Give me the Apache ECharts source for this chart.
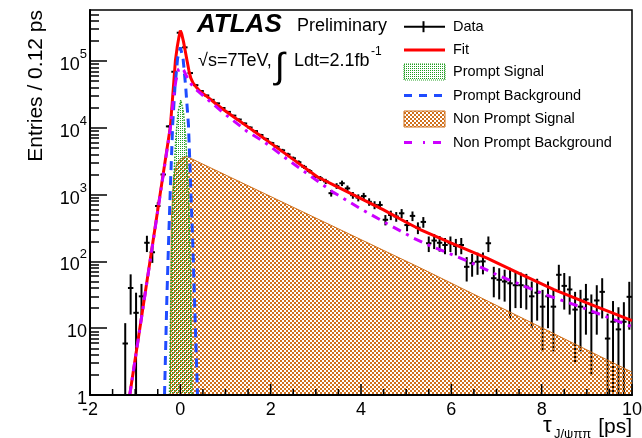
<!DOCTYPE html>
<html><head><meta charset="utf-8">
<script src="https://cdn.jsdelivr.net/npm/echarts@6/dist/echarts.min.js"></script>
<style>html,body{margin:0;padding:0;background:#fff}#c{width:642px;height:438px}</style>
</head><body><div id="c"></div>
<script>
// ---- data ----
const dataX = [-1.22,-1.10,-0.98,-0.86,-0.74,-0.62,-0.50,-0.38,-0.26,-0.14,-0.02,0.10,0.22,0.34,0.46,0.58,0.70,0.82,0.94,1.06,1.18,1.30,1.42,1.54,1.66,1.78,1.90,2.02,2.14,2.26,2.38,2.50,2.62,2.74,2.86,2.98,3.10,3.22,3.34,3.46,3.58,3.70,3.82,3.94,4.06,4.18,4.30,4.42,4.54,4.66,4.78,4.90,5.02,5.14,5.26,5.38,5.50,5.62,5.74,5.86,5.98,6.10,6.22,6.34,6.46,6.58,6.70,6.82,6.94,7.06,7.18,7.30,7.42,7.54,7.66,7.78,7.90,8.02,8.14,8.26,8.38,8.50,8.62,8.74,8.86,8.98,9.10,9.22,9.34,9.46,9.58,9.70,9.82,9.94];
const dataY = [5.9,40,17,30,190,137,675,2000,10500,69000,265000,160000,66000,43500,35500,30500,26200,23200,19800,17300,15200,13300,11600,10100,8900,7800,6800,5900,5200,4600,4000,3500,3050,2600,2250,1850,1750,1580,1050,1350,1480,1240,980,900,950,780,700,700,420,495,470,525,350,480,320,390,187,205,190,176,187,170,176,83,94,99,100,187,56,53,50,47,44,44,42,30,34,21,30,21,63,43,38,19,21,27,17,26,35,7,12.5,9.6,12.5,29.5];
const dataErr = [6,24,17,16,52,42,93,160,370,950,1850,1440,925,750,680,630,580,550,510,470,440,415,390,360,340,318,297,276,260,244,228,213,199,184,171,155,150,143,117,132,138,127,113,108,111,100,95,95,74,80,78,82,67,79,64,71,49,52,50,48,49,47,48,33,35,36,36,49,27,26,25,33,24,24,23,20,21,16.5,20,16.5,26,24,22,16,16.5,19,15,18,21,9.5,13,11,12,20];

const fitCurve = [[-1.12,1],[-0.22,10500],[-0.17,29000],[-0.11,100000],[-0.07,160000],[-0.03,230000],[0.0,285000],[0.03,255000],[0.07,195000],[0.11,140000],[0.15,100000],[0.19,72000],[0.23,56000],[0.28,47000],[0.36,40000],[0.44,35000],[0.6,29000],[0.8,22500],[0.96,18600],[1.2,14300],[1.48,10500],[1.75,7800],[2.0,5900],[2.5,3370],[3.03,1850],[3.5,1280],[4.0,870],[4.5,590],[5.0,385],[5.31,300],[6.0,188],[6.79,112],[7.5,66],[8.26,38],[9.0,24],[10.0,13]];
const nonPromptBkg = [[-1.12,1],[-0.22,10000],[-0.16,25000],[-0.1,50000],[-0.04,75000],[0.02,80000],[0.08,72000],[0.15,57000],[0.22,47000],[0.3,40000],[0.44,33000],[0.7,23400],[0.96,16600],[1.48,8800],[1.85,6200],[2.4,3250],[2.88,1900],[3.39,1080],[3.98,620],[4.57,370],[5.16,224],[5.46,180],[6.38,100],[7.01,63],[7.6,43],[8.19,30],[8.85,21],[9.44,14.8],[10.0,10.5]];
const promptBkg = [[-0.35,1],[-0.3,25],[-0.26,200],[-0.22,1300],[-0.17,11000],[-0.12,40000],[-0.06,110000],[0.0,160000],[0.06,110000],[0.12,40000],[0.18,11000],[0.23,1300],[0.28,150],[0.33,12],[0.38,1]];
const promptSig = [[-0.24,1],[-0.2,100],[-0.16,1000],[-0.1,7000],[-0.05,17000],[0.01,26000],[0.07,17000],[0.12,7000],[0.18,1000],[0.22,100],[0.26,1]];
const nonPromptSig = [[-0.22,1],[-0.2,400],[-0.15,1800],[-0.08,2900],[0.0,3400],[0.08,3650],[0.15,3700],[5.31,80],[10.0,2.2]];

const xMajorTicks = [-2,0,2,4,6,8,10];
const xMinorTicks = [-1.5,-1,-0.5,0.5,1,1.5,2.5,3,3.5,4.5,5,5.5,6.5,7,7.5,8.5,9,9.5];
const yMajorTicks = [1,10,100,1000,10000,100000];
const yMinorTicks = [2,3,4,5,6,7,8,9,20,30,40,50,60,70,80,90,200,300,400,500,600,700,800,900,2000,3000,4000,5000,6000,7000,8000,9000,20000,30000,40000,50000,60000,70000,80000,90000,200000,300000,400000,500000];

const legendLabels = ['Data','Fit','Prompt Signal','Prompt Background','Non Prompt Signal','Non Prompt Background'];

// ---- styling ----
const FONT = 'Liberation Sans';
const ORANGE = '#d0701c', GREEN = '#1e9e1e', BLUE = '#1f4cff', MAGENTA = '#cc00ff', RED = '#ff0000';
const halfBin = 0.06;
const X_MAJOR_LEN = 11, X_MINOR_LEN = 6;

function pattern(color, size, cells) {
  const c = document.createElement('canvas'); c.width = size; c.height = size;
  const g = c.getContext('2d'); g.fillStyle = color;
  cells.forEach(r => g.fillRect(r[0], r[1], r[2], r[3]));
  return c;
}
const orangePat = pattern(ORANGE, 4, [[0,0,2,2],[2,2,2,2]]);
const greenPat = pattern(GREEN, 2, [[0,0,1,1]]);

const dataPts = dataX.map((x, i) => [x, dataY[i], dataErr[i]]);
const xTickPts = xMajorTicks.map(v => [v, 1, X_MAJOR_LEN]).concat(xMinorTicks.map(v => [v, 1, X_MINOR_LEN]));

function renderData(params, api) {
  const x = api.value(0), y = api.value(1), e = api.value(2);
  const lo = Math.max(y - e, 1);
  const pc = api.coord([x, y]);
  const pl = api.coord([x - halfBin, y]);
  const pr = api.coord([x + halfBin, y]);
  const pt = api.coord([x, y + e]);
  const pb = api.coord([x, lo]);
  const st = { stroke: '#000', lineWidth: 2 };
  return { type: 'group', children: [
    { type: 'line', shape: { x1: pl[0], y1: pc[1], x2: pr[0], y2: pc[1] }, style: st },
    { type: 'line', shape: { x1: pc[0], y1: pt[1], x2: pc[0], y2: pb[1] }, style: st }
  ]};
}
function renderXTick(params, api) {
  const p = api.coord([api.value(0), api.value(1)]);
  const len = api.value(2);
  return { type: 'line', shape: { x1: p[0], y1: p[1], x2: p[0], y2: p[1] - len }, style: { stroke: '#000', lineWidth: 1.5 } };
}

function txt(x, y, text, size, extra) {
  return { type: 'text', x: x, y: y, z: 100,
    style: Object.assign({ text: text, fontSize: size, fontFamily: FONT, fill: '#000', verticalAlign: 'middle', align: 'left' }, extra || {}) };
}

const LX0 = 404, LX1 = 445, LTX = 453;
const rowsY = [26.7, 50, 72, 95.5, 119, 142.5];
const legendGraphics = [
  { type: 'line', shape: { x1: LX0, y1: rowsY[0], x2: LX1, y2: rowsY[0] }, style: { stroke: '#000', lineWidth: 2 }, z: 100 },
  { type: 'line', shape: { x1: 423.5, y1: rowsY[0] - 5.5, x2: 423.5, y2: rowsY[0] + 5.5 }, style: { stroke: '#000', lineWidth: 2 }, z: 100 },
  { type: 'line', shape: { x1: LX0, y1: rowsY[1], x2: LX1, y2: rowsY[1] }, style: { stroke: RED, lineWidth: 3 }, z: 100 },
  { type: 'rect', shape: { x: LX0, y: rowsY[2] - 8, width: LX1 - LX0, height: 16 }, style: { fill: { image: greenPat, repeat: 'repeat' }, stroke: GREEN, lineWidth: 1, lineDash: [1, 1] }, z: 100 },
  { type: 'line', shape: { x1: LX0, y1: rowsY[3], x2: LX1, y2: rowsY[3] }, style: { stroke: BLUE, lineWidth: 3, lineDash: [8, 7] }, z: 100 },
  { type: 'rect', shape: { x: LX0, y: rowsY[4] - 8, width: LX1 - LX0, height: 16 }, style: { fill: { image: orangePat, repeat: 'repeat' }, stroke: ORANGE, lineWidth: 1 }, z: 100 },
  { type: 'line', shape: { x1: LX0, y1: rowsY[5], x2: LX1, y2: rowsY[5] }, style: { stroke: MAGENTA, lineWidth: 3, lineDash: [8, 11, 2, 8] }, z: 100 }
].concat(legendLabels.map((t, i) => txt(LTX, rowsY[i], t, 14.5)));

const textGraphics = [
  txt(197, 25, 'ATLAS', 26, { fontWeight: 'bold', fontStyle: 'italic' }),
  txt(297, 26, 'Preliminary', 18),
  txt(198, 61, '√s=7TeV,', 18),
  txt(275, 68, '∫', 36),
  txt(294, 61, 'Ldt=2.1fb', 18),
  txt(371, 52, '-1', 12),
  txt(36, 10, 'Entries / 0.12 ps', 21, { align: 'right' }),
  txt(632, 427, '[ps]', 21, { align: 'right' }),
  txt(543, 426, 'τ', 22),
  txt(554, 434, 'J/ψππ', 13)
];
textGraphics[6].rotation = Math.PI / 2;

const yAxisCommon = { type: 'log', logBase: 10, min: 1, max: 580000, position: 'left', z: 50, splitLine: { show: false } };
const tickLine = { color: '#000', width: 1.5 };

const option = {
  animation: false,
  backgroundColor: '#fff',
  grid: { left: 90, right: 10, top: 10, bottom: 43, show: true, borderColor: '#000', borderWidth: 1.5, backgroundColor: 'transparent', outerBoundsMode: 'none', containLabel: false },
  xAxis: {
    type: 'value', min: -2, max: 10, interval: 2, position: 'bottom', z: 50, splitLine: { show: false },
    axisLine: { show: true, onZero: false, lineStyle: { color: '#000', width: 2 } },
    axisTick: { show: false },
    axisLabel: { customValues: xMajorTicks, color: '#000', fontSize: 18, fontFamily: FONT, margin: 6, showMinLabel: true, showMaxLabel: true }
  },
  yAxis: [
    Object.assign({}, yAxisCommon, {
      axisLine: { show: true, onZero: false, lineStyle: { color: '#000', width: 2 } },
      axisTick: { show: true, inside: true, length: 17, customValues: yMajorTicks, lineStyle: tickLine },
      axisLabel: {
        customValues: yMajorTicks, margin: 3, color: '#000', fontFamily: FONT,
        formatter: function (v) {
          const p = Math.round(Math.log10(v));
          if (p === 0) return '{b|1}';
          if (p === 1) return '{b|10}';
          return '{b|10}{s|' + p + '}';
        },
        rich: {
          b: { fontSize: 18, lineHeight: 26, verticalAlign: 'bottom', fontFamily: FONT, color: '#000' },
          s: { fontSize: 13, lineHeight: 12, verticalAlign: 'top', fontFamily: FONT, color: '#000' }
        }
      }
    }),
    Object.assign({}, yAxisCommon, {
      axisLine: { show: false, onZero: false },
      axisLabel: { show: false },
      axisTick: { show: true, inside: true, length: 9, customValues: yMinorTicks, lineStyle: tickLine }
    })
  ],
  series: [
    { type: 'custom', name: 'Data', renderItem: renderData, data: dataPts, encode: { x: 0, y: 1 }, z: 1, silent: true },
    { type: 'line', name: 'Non Prompt Signal', data: nonPromptSig, symbol: 'none', z: 2, silent: true,
      lineStyle: { color: ORANGE, width: 1 },
      areaStyle: { color: { image: orangePat, repeat: 'repeat' }, opacity: 1, origin: 1 } },
    { type: 'line', name: 'Prompt Signal', data: promptSig, symbol: 'none', z: 3, silent: true,
      lineStyle: { color: GREEN, width: 1.5, type: 'dotted' },
      areaStyle: { color: { image: greenPat, repeat: 'repeat' }, opacity: 1, origin: 1 } },
    { type: 'line', name: 'Fit', data: fitCurve, symbol: 'none', z: 4, silent: true,
      lineStyle: { color: RED, width: 3 } },
    { type: 'line', name: 'Prompt Background', data: promptBkg, symbol: 'none', z: 5, silent: true,
      lineStyle: { color: BLUE, width: 3, type: [9, 6] } },
    { type: 'line', name: 'Non Prompt Background', data: nonPromptBkg, symbol: 'none', z: 6, silent: true,
      lineStyle: { color: MAGENTA, width: 3, type: [9, 6, 3, 6] } },
    { type: 'custom', name: 'x ticks', renderItem: renderXTick, data: xTickPts, encode: { x: 0, y: 1 }, z: 20, silent: true, clip: false }
  ],
  graphic: legendGraphics.concat(textGraphics)
};

const chart = echarts.init(document.getElementById('c'), null, { renderer: 'canvas' });
chart.setOption(option);
</script>
</body></html>
